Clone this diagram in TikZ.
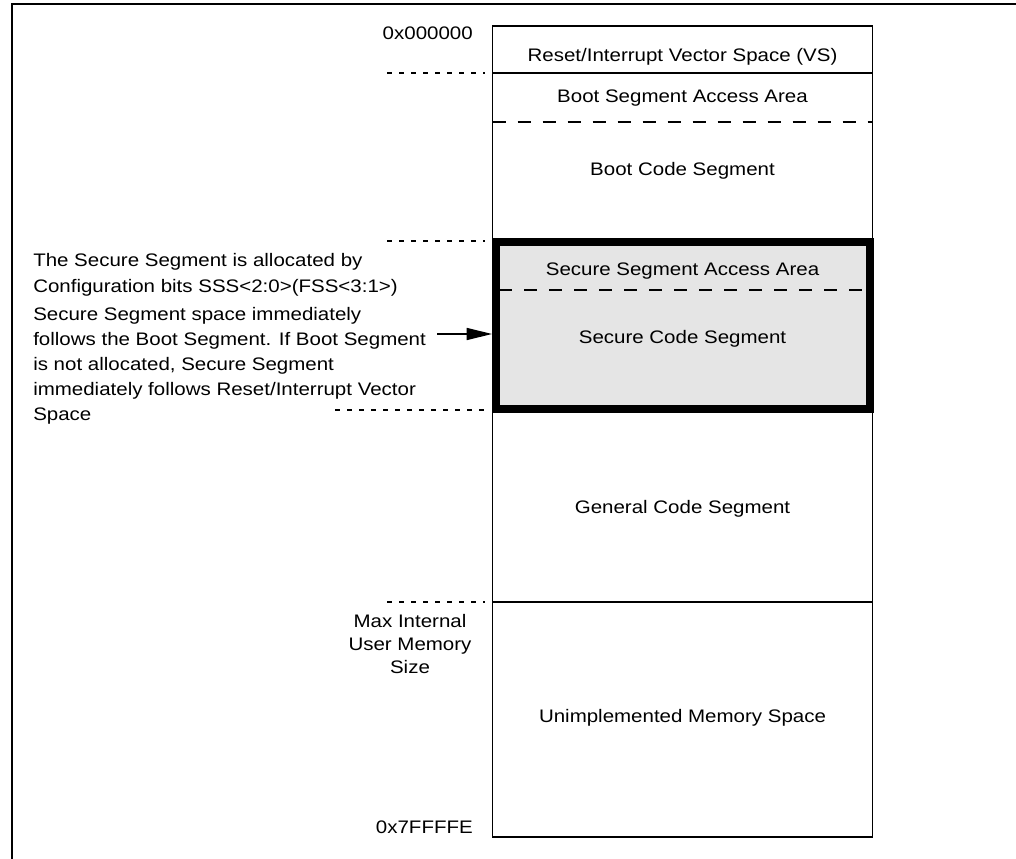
\documentclass[tikz,border=0pt]{standalone}
\usepackage{fontspec}
\setmainfont[FakeStretch=1.13]{Liberation Sans}
\usetikzlibrary{arrows.meta}
\definecolor{secgray}{RGB}{229,229,229}
\begin{document}
\begin{tikzpicture}[x=0.75pt,y=-0.75pt,
  txt/.style={inner sep=0pt, font=\fontsize{13.6}{18.75}\selectfont},
  segline/.style={line width=1.2pt},
  longdash/.style={segline, dash pattern=on 9.75pt off 9pt},
  shortdash/.style={segline, dash pattern=on 3.75pt off 5.25pt},
  outerframe/.style={line width=1.5pt},
  securebox/.style={line width=6pt, fill=secgray, line join=miter}]
\useasboundingbox (0,0) rectangle (1016,859);
% outer frame (left and top only)
\draw[outerframe] (12,859) -- (12,4) -- (1016,4);
% memory block
\draw[segline] (492.5,26) rectangle (872.5,837);
\draw[segline] (492.5,73) -- (872.5,73);
\draw[longdash] (492.5,122) -- (872.5,122);
\draw[segline] (492.5,602) -- (872.5,602);
% secure segment (thick box)
\draw[securebox] (495.5,242) rectangle (869.5,409);
\draw[longdash] (499,290) -- (866,290);
\coordinate (secW) at (492,334);
% left dashed markers
\draw[shortdash] (387,73) -- (485,73);
\draw[shortdash] (387,241) -- (485,241);
\draw[shortdash] (335,410) -- (485,410);
\draw[shortdash] (387,602) -- (485,602);
% block texts
\node[txt, anchor=base] (vs) at (682.5,62) {Reset/Interrupt Vector Space (VS)};
\node[txt, anchor=base] (bsa) at (682.5,103) {Boot Segment Access Area};
\node[txt, anchor=base] (bcs) at (682.5,176) {Boot Code Segment};
\node[txt, anchor=base] (ssa) at (682.5,275) {Secure Segment Access Area};
\node[txt, anchor=base] (scs) at (682.5,343) {Secure Code Segment};
\node[txt, anchor=base] (gcs) at (682.5,513) {General Code Segment};
\node[txt, anchor=base] (ums) at (682.5,722) {Unimplemented Memory Space};
% address labels
\node[txt, anchor=base east] (a0) at (473,40) {0x000000};
\node[txt, anchor=base east] (a1) at (473,833) {0x7FFFFE};
\node[txt, anchor=base] (m1) at (410,627) {Max Internal};
\node[txt, anchor=base] (m2) at (410,650) {User Memory};
\node[txt, anchor=base] (m3) at (410,673) {Size};
% left notes
\node[txt, anchor=base west] (n1) at (33,267) {The Secure Segment is allocated by};
\node[txt, anchor=base west] (n2) at (33,292) {Configuration bits SSS<2:0>(FSS<3:1>)};
\node[txt, anchor=base west] (n3) at (33,320) {Secure Segment space immediately};
\node[txt, anchor=base west] (n4) at (33,345) {follows the Boot Segment. If Boot Segment};
\node[txt, anchor=base west] (n5) at (33,370) {is not allocated, Secure Segment};
\node[txt, anchor=base west] (n6) at (33,395) {immediately follows Reset/Interrupt Vector};
\node[txt, anchor=base west] (n7) at (33,420) {Space};
% arrow
\coordinate (astart) at (437,334);
\draw[segline, -{Triangle[length=19pt,width=9pt]}] (astart) -- (secW);
\end{tikzpicture}
\end{document}
